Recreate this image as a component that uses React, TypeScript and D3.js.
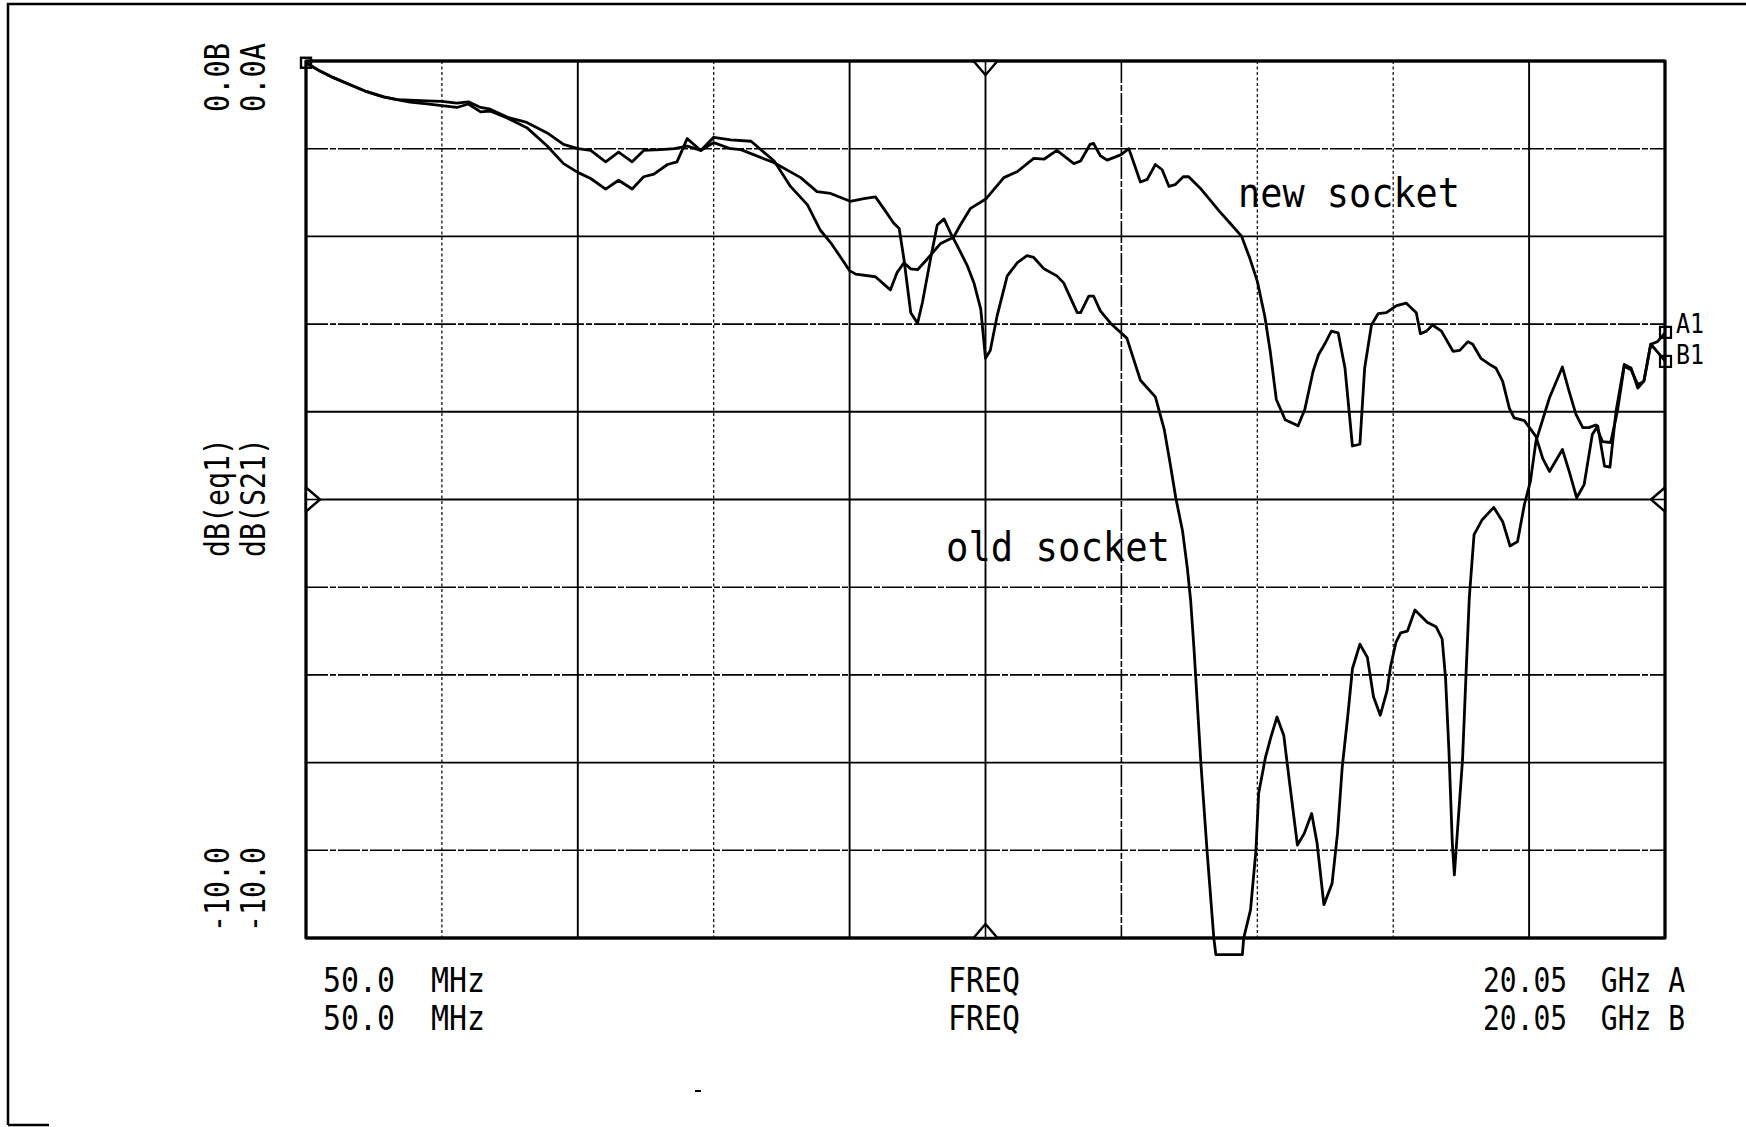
import React from "react";
import * as d3 from "d3";

// Frequency (GHz) / magnitude (dB)
const commonStart: [number, number][] = [
  [0.05, -0.02], [0.256, -0.115], [0.453, -0.19], [0.699, -0.27], [0.944, -0.35], [1.19, -0.41], [1.39, -0.44],
];

const newSocket: [number, number][] = [
  [1.58, -0.47], [1.83, -0.49], [2.05, -0.51], [2.27, -0.53], [2.44, -0.49], [2.62, -0.58], [2.76, -0.57],
  [3.01, -0.65], [3.3, -0.76], [3.6, -0.97], [3.84, -1.17], [4.05, -1.27], [4.24, -1.34], [4.46, -1.46],
  [4.65, -1.36], [4.85, -1.46], [5.02, -1.32], [5.17, -1.29], [5.37, -1.18], [5.51, -1.15], [5.66, -0.885],
  [5.86, -1.02], [6.05, -0.87], [6.3, -0.9], [6.6, -0.915], [6.94, -1.14], [7.18, -1.43], [7.43, -1.64],
  [7.62, -1.93], [7.77, -2.07], [7.92, -2.24], [8.05, -2.39], [8.14, -2.43], [8.43, -2.46], [8.65, -2.61],
  [8.75, -2.41], [8.85, -2.3], [8.95, -2.37], [9.05, -2.38], [9.19, -2.26], [9.39, -2.08], [9.58, -2.01],
  [9.68, -1.87], [9.83, -1.68], [10.06, -1.57], [10.32, -1.33], [10.52, -1.26], [10.76, -1.11], [10.91, -1.12],
  [11.1, -1.02], [11.35, -1.17], [11.45, -1.14], [11.59, -0.95], [11.64, -0.94], [11.74, -1.08], [11.84, -1.13],
  [12.04, -1.07], [12.16, -1.0], [12.33, -1.38], [12.43, -1.35], [12.55, -1.18], [12.65, -1.24], [12.75, -1.43],
  [12.84, -1.41], [12.96, -1.32], [13.04, -1.32], [13.21, -1.45], [13.5, -1.72], [13.65, -1.85], [13.82, -2.0],
  [13.94, -2.25], [14.05, -2.51], [14.16, -2.91], [14.24, -3.31], [14.33, -3.86], [14.46, -4.09], [14.65, -4.16],
  [14.75, -3.97], [14.87, -3.54], [14.95, -3.35], [15.04, -3.23], [15.14, -3.08], [15.24, -3.1], [15.34, -3.5],
  [15.45, -4.39], [15.56, -4.37], [15.63, -3.5], [15.73, -3.01], [15.83, -2.88], [15.95, -2.87], [16.1, -2.79],
  [16.24, -2.76], [16.39, -2.87], [16.45, -3.11], [16.54, -3.08], [16.63, -3.01], [16.76, -3.08], [16.93, -3.31],
  [17.03, -3.3], [17.15, -3.2], [17.22, -3.23], [17.34, -3.39], [17.47, -3.46], [17.56, -3.5], [17.66, -3.65],
  [17.76, -3.96], [17.83, -4.07], [17.98, -4.1], [18.15, -4.28], [18.25, -4.53], [18.35, -4.68], [18.54, -4.43],
  [18.64, -4.68], [18.75, -4.98], [18.86, -4.83], [18.98, -4.26], [19.06, -4.16], [19.16, -4.62], [19.24, -4.63],
  [19.33, -3.99], [19.45, -3.46], [19.55, -3.5], [19.65, -3.73], [19.74, -3.65], [19.84, -3.23], [19.94, -3.2],
  [20.05, -3.1],
];

const oldSocket: [number, number][] = [
  [1.58, -0.446], [1.83, -0.454], [2.05, -0.46], [2.27, -0.48], [2.44, -0.465], [2.62, -0.53], [2.76, -0.55],
  [3.01, -0.64], [3.3, -0.7], [3.6, -0.82], [3.84, -0.95], [4.05, -1.0], [4.24, -1.02], [4.46, -1.15],
  [4.65, -1.04], [4.85, -1.15], [5.02, -1.02], [5.27, -1.01], [5.47, -1.0], [5.66, -0.97], [5.86, -1.02],
  [6.05, -0.93], [6.3, -1.0], [6.45, -1.01], [6.94, -1.16], [7.33, -1.33], [7.57, -1.49], [7.77, -1.51],
  [8.06, -1.6], [8.26, -1.57], [8.43, -1.55], [8.55, -1.68], [8.7, -1.85], [8.78, -1.91], [8.85, -2.26],
  [8.95, -2.87], [9.05, -2.99], [9.12, -2.76], [9.24, -2.26], [9.34, -1.87], [9.44, -1.8], [9.54, -1.97],
  [9.63, -2.1], [9.78, -2.33], [9.88, -2.53], [9.98, -2.83], [10.05, -3.39], [10.12, -3.3], [10.22, -2.91],
  [10.37, -2.45], [10.52, -2.3], [10.66, -2.22], [10.76, -2.24], [10.91, -2.37], [11.1, -2.45], [11.2, -2.53],
  [11.4, -2.87], [11.45, -2.87], [11.57, -2.68], [11.64, -2.68], [11.74, -2.85], [11.89, -2.99], [12.13, -3.16],
  [12.33, -3.64], [12.55, -3.83], [12.68, -4.2], [12.77, -4.6], [12.85, -4.98], [12.95, -5.36], [13.02, -5.78],
  [13.07, -6.16], [13.12, -6.72], [13.22, -8.01], [13.31, -9.0], [13.41, -10.0], [13.44, -10.19], [13.83, -10.19],
  [13.85, -10.0], [13.95, -9.68], [14.03, -9.0], [14.07, -8.35], [14.17, -7.94], [14.25, -7.71], [14.34, -7.48],
  [14.44, -7.69], [14.49, -8.01], [14.64, -8.94], [14.74, -8.81], [14.85, -8.58], [14.93, -8.92], [15.03, -9.62],
  [15.15, -9.38], [15.23, -8.81], [15.3, -8.05], [15.38, -7.48], [15.45, -6.93], [15.56, -6.65], [15.67, -6.8],
  [15.76, -7.25], [15.86, -7.46], [15.96, -7.18], [16.01, -6.91], [16.09, -6.63], [16.16, -6.52], [16.26, -6.5],
  [16.37, -6.26], [16.55, -6.4], [16.68, -6.45], [16.77, -6.59], [16.82, -7.03], [16.87, -7.86], [16.92, -8.92],
  [16.95, -9.28], [16.99, -8.84], [17.07, -7.97], [17.13, -6.84], [17.17, -6.12], [17.24, -5.4], [17.36, -5.23],
  [17.53, -5.09], [17.66, -5.25], [17.77, -5.53], [17.88, -5.48], [17.98, -5.06], [18.07, -4.79], [18.15, -4.34],
  [18.35, -3.84], [18.54, -3.49], [18.64, -3.77], [18.74, -4.03], [18.84, -4.18], [18.93, -4.18], [19.03, -4.15],
  [19.13, -4.34], [19.25, -4.35], [19.35, -3.99], [19.45, -3.48], [19.55, -3.52], [19.65, -3.69], [19.74, -3.65],
  [19.84, -3.23], [19.91, -3.29], [20.05, -3.42],
];

const freqStart = 0.05;
const freqStop = 20.05;
const dbTop = 0;
const dbBottom = -10;
const xDivisions = d3.range(0, 11).map((i) => freqStart + 2 * i);
const yDivisions = d3.range(0, 11).map((i) => -i);
// grid style per division: "axis" | "solid" | "dot" | "dash"
const xGridStyle = ["axis", "dot", "solid", "dot", "solid", "solid", "dash", "dot", "dot", "solid", "axis"];
const yGridStyle = ["axis", "dash", "solid", "dash", "solid", "solid", "dash", "dash", "solid", "dash", "axis"];

const leftColumn = ["0.0B", "dB(eq1)", "-10.0"];
const rightColumn = ["0.0A", "dB(S21)", "-10.0"];
const startLabel = "50.0  MHz";
const midLabel = "FREQ";
const stopLabel = "20.05  GHz";
const traceLetters = ["A", "B"];
const markerLabels = ["A1", "B1"];
const traceNames = ["new socket", "old socket"];

const FONT = "'DejaVu Sans Mono', 'Liberation Mono', monospace";

export default function App() {
  const L = 306, R = 1665, T = 61, B = 938;
  const x = d3.scaleLinear().domain([freqStart, freqStop]).range([L, R]);
  const y = d3.scaleLinear().domain([dbTop, dbBottom]).range([T, B]);
  const line = d3
    .line<[number, number]>()
    .x((d) => x(d[0]))
    .y((d) => y(d[1]));

  const newPath = line([...commonStart, ...newSocket]) || "";
  const oldPath = line([...commonStart, ...oldSocket]) || "";

  const styleFor = (s: string) => {
    if (s === "axis") return { sw: 2.8, dash: undefined as string | undefined };
    if (s === "solid") return { sw: 1.9, dash: undefined };
    if (s === "dash") return { sw: 1.6, dash: "22 2 6 2" };
    return { sw: 1.2, dash: "3 2.5" };
  };

  const cx = x((freqStart + freqStop) / 2);
  const cy = y((dbTop + dbBottom) / 2);
  const tb = 12; // half base
  const td = 14; // depth

  const colLabelY = [
    { bottom: 112, len: 69 },
    { bottom: 557, len: 119 },
    { bottom: 932, len: 85 },
  ];

  const endA = newSocket[newSocket.length - 1];
  const endB = oldSocket[oldSocket.length - 1];

  return (
    <svg
      width={1746}
      height={1127}
      viewBox="0 0 1746 1127"
      style={{ position: "absolute", left: 0, top: 0, background: "#fff" }}
    >
      <rect x={0} y={0} width={1746} height={1127} fill="#fff" />
      {/* outer frame */}
      <path d="M8 1125 L8 4 L1746 4" fill="none" stroke="#000" strokeWidth={2.5} />
      <line x1={8} y1={1125} x2={49} y2={1125} stroke="#000" strokeWidth={2.5} />
      <line x1={695} y1={1091} x2={701} y2={1091} stroke="#000" strokeWidth={2} />

      {/* grid */}
      {xDivisions.map((f, i) => {
        const s = styleFor(xGridStyle[i]);
        return (
          <line key={"gx" + i} x1={x(f)} x2={x(f)} y1={T} y2={B} stroke="#000" strokeWidth={s.sw} strokeDasharray={s.dash} />
        );
      })}
      {yDivisions.map((v, i) => {
        const s = styleFor(yGridStyle[i]);
        return (
          <line key={"gy" + i} x1={L} x2={R} y1={y(v)} y2={y(v)} stroke="#000" strokeWidth={s.sw} strokeDasharray={s.dash} />
        );
      })}
      <rect x={L} y={T} width={R - L} height={B - T} fill="none" stroke="#000" strokeWidth={2.8} />

      {/* reference triangles */}
      <g fill="#fff" stroke="#000" strokeWidth={2.4} strokeLinejoin="round">
        <path d={`M${cx - tb} ${T} L${cx + tb} ${T} L${cx} ${T + td} Z`} />
        <path d={`M${cx - tb} ${B} L${cx + tb} ${B} L${cx} ${B - td} Z`} />
        <path d={`M${L} ${cy - tb} L${L} ${cy + tb} L${L + td} ${cy} Z`} />
        <path d={`M${R} ${cy - tb} L${R} ${cy + tb} L${R - td} ${cy} Z`} />
      </g>
      <g stroke="#000" strokeWidth={1.6}>
        <line x1={cx} x2={cx} y1={T} y2={T + td} />
        <line x1={cx} x2={cx} y1={B} y2={B - td} />
        <line x1={L} x2={L + td} y1={cy} y2={cy} />
        <line x1={R} x2={R - td} y1={cy} y2={cy} />
      </g>

      {/* traces */}
      <path d={oldPath} fill="none" stroke="#000" strokeWidth={2.8} strokeLinejoin="round" />
      <path d={newPath} fill="none" stroke="#000" strokeWidth={2.8} strokeLinejoin="round" />

      {/* markers */}
      <rect x={x(freqStart) - 5} y={y(commonStart[0][1]) - 5} width={10} height={10} fill="none" stroke="#000" strokeWidth={2.4} />
      <rect x={x(endA[0]) - 5} y={y(endA[1]) - 6} width={11} height={11} fill="none" stroke="#000" strokeWidth={2.2} />
      <rect x={x(endB[0]) - 5} y={y(endB[1]) - 5} width={11} height={11} fill="none" stroke="#000" strokeWidth={2.2} />
      <text x={1676} y={y(endA[1])} fontFamily={FONT} fontSize={27} textLength={28} lengthAdjust="spacingAndGlyphs">
        {markerLabels[0]}
      </text>
      <text x={1676} y={y(endB[1]) + 3} fontFamily={FONT} fontSize={27} textLength={28} lengthAdjust="spacingAndGlyphs">
        {markerLabels[1]}
      </text>

      {/* rotated axis labels */}
      {leftColumn.map((t, i) => (
        <text
          key={"lc" + i}
          transform={`translate(229, ${colLabelY[i].bottom}) rotate(-90)`}
          fontFamily={FONT}
          fontSize={33}
          textLength={colLabelY[i].len}
          lengthAdjust="spacingAndGlyphs"
        >
          {t}
        </text>
      ))}
      {rightColumn.map((t, i) => (
        <text
          key={"rc" + i}
          transform={`translate(265, ${colLabelY[i].bottom}) rotate(-90)`}
          fontFamily={FONT}
          fontSize={33}
          textLength={colLabelY[i].len}
          lengthAdjust="spacingAndGlyphs"
        >
          {t}
        </text>
      ))}

      {/* bottom annotations */}
      {[992, 1030].map((by, i) => (
        <g key={"bl" + i} fontFamily={FONT} fontSize={34}>
          <text x={323} y={by} textLength={162} lengthAdjust="spacingAndGlyphs" xmlSpace="preserve">
            {startLabel}
          </text>
          <text x={948} y={by} textLength={72} lengthAdjust="spacingAndGlyphs">
            {midLabel}
          </text>
          <text x={1483} y={by} textLength={202} lengthAdjust="spacingAndGlyphs" xmlSpace="preserve">
            {stopLabel + " " + traceLetters[i]}
          </text>
        </g>
      ))}

      {/* trace names */}
      <text x={1238} y={207} fontFamily={FONT} fontSize={41} textLength={222} lengthAdjust="spacingAndGlyphs">
        {traceNames[0]}
      </text>
      <text x={946} y={561} fontFamily={FONT} fontSize={41} textLength={224} lengthAdjust="spacingAndGlyphs">
        {traceNames[1]}
      </text>
    </svg>
  );
}
